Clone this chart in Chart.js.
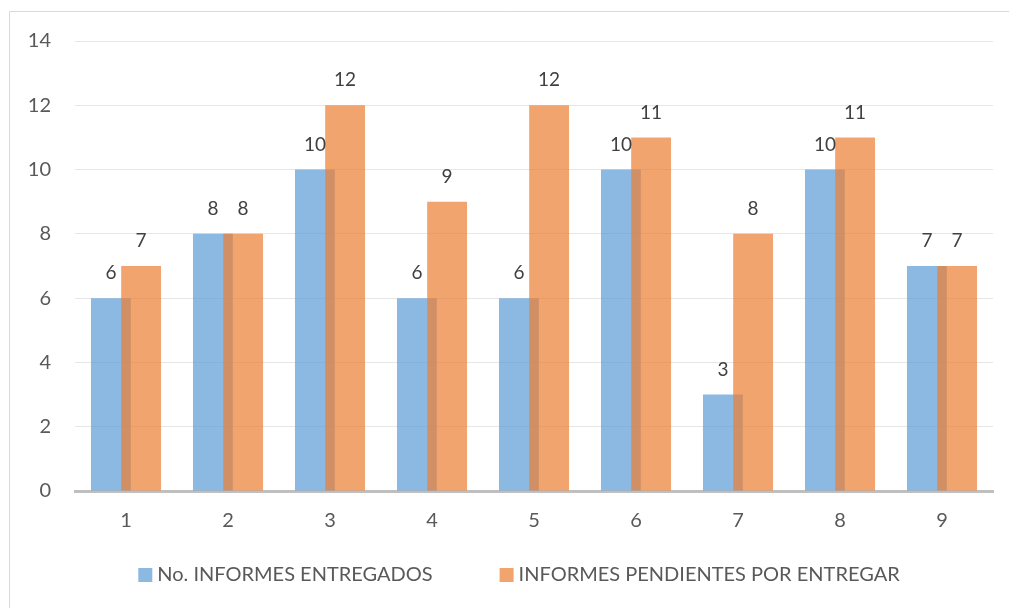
<!DOCTYPE html>
<html>
<head>
<meta charset="utf-8">
<script src="https://cdn.jsdelivr.net/npm/chart.js@4.4.1/dist/chart.umd.min.js"></script>
<style>
  html, body { margin: 0; padding: 0; background: #fff; }
  canvas { display: block; }
</style>
</head>
<body>
<canvas id="myChart" width="1009" height="608"></canvas>
<script>
// datos del gráfico
const categories = ['1', '2', '3', '4', '5', '6', '7', '8', '9'];
const entregados = [6, 8, 10, 6, 6, 10, 3, 10, 7];
const pendientes = [7, 8, 12, 9, 12, 11, 8, 11, 7];
const seriesNames = ['No. INFORMES ENTREGADOS', 'INFORMES PENDIENTES POR ENTREGAR'];
const Y_MIN = 0;
const Y_MAX = 14;
const Y_STEP = 2;

const FONT = 'Lato, "Open Sans", sans-serif';

// dibuja las series en orden (la naranja queda encima), las etiquetas y la leyenda
const drawPlugin = {
    id: 'drawPlugin',
    beforeDraw(chart) {
        const c = chart.ctx;
        c.save();
        c.fillStyle = '#fff';
        c.fillRect(0, 0, chart.width, chart.height);
        c.strokeStyle = '#d9d9d9';
        c.lineWidth = 1;
        c.beginPath();
        c.moveTo(9.5, chart.height);
        c.lineTo(9.5, 11.5);
        c.lineTo(chart.width, 11.5);
        c.stroke();
        c.restore();
    },
    beforeDatasetsDraw(chart) {
        chart.data.datasets.forEach((ds, i) => {
            const meta = chart.getDatasetMeta(i);
            if (!meta.hidden) meta.controller.draw();
        });
        return false;
    },
    afterDraw(chart) {
        const c = chart.ctx;
        c.save();
        // valores encima de las barras
        c.font = '19px ' + FONT;
        c.fillStyle = '#404040';
        c.textAlign = 'center';
        c.textBaseline = 'middle';
        chart.data.datasets.forEach((ds, i) => {
            const meta = chart.getDatasetMeta(i);
            meta.data.forEach((bar, j) => {
                c.fillText(String(ds.data[j]), bar.x, bar.y - 25);
            });
        });

        // leyenda
        c.font = '20px ' + FONT;
        c.textAlign = 'left';
        const box = 14, textGap = 19, itemGap = 67, cy = 575;
        const widths = chart.data.datasets.map(ds => c.measureText(ds.label).width);
        const total = widths.reduce((a, w) => a + textGap + w, 0) + itemGap * (widths.length - 1);
        let x = 519 - total / 2;
        chart.data.datasets.forEach((ds, i) => {
            c.fillStyle = ds.backgroundColor;
            c.fillRect(x, cy - box / 2, box, box);
            c.fillStyle = '#595959';
            c.fillText(ds.label, x + textGap, cy);
            x += textGap + widths[i] + itemGap;
        });
        c.restore();
    }
};

const data = {
    labels: categories,
    datasets: [
        {
            label: seriesNames[0],
            data: entregados,
            backgroundColor: 'rgba(91, 155, 213, 0.7)',
            borderWidth: 0,
        },
        {
            label: seriesNames[1],
            data: pendientes,
            backgroundColor: 'rgba(237, 125, 49, 0.7)',
            borderWidth: 0,
        },
    ],
};

var ctx = document.getElementById('myChart').getContext('2d');

var myChart = new Chart(ctx, {
    type: 'bar',
    data: data,
    plugins: [drawPlugin],
    options: {
        responsive: false,
        animation: false,
        devicePixelRatio: 1,
        categoryPercentage: 0.592,
        barPercentage: 1.32,
        layout: {
            padding: { left: 0, right: 16, top: 41, bottom: 75 },
        },
        plugins: {
            tooltip: { enabled: false },
            legend: { display: false },
        },
        scales: {
            x: {
                grid: { display: false, drawTicks: false },
                border: { display: true, color: '#bfbfbf', width: 3 },
                ticks: {
                    color: '#595959',
                    font: { family: FONT, size: 20 },
                    padding: 18,
                    maxRotation: 0,
                },
                afterFit(scale) { scale.height = 42; },
            },
            y: {
                min: Y_MIN,
                max: Y_MAX,
                ticks: {
                    stepSize: Y_STEP,
                    color: '#595959',
                    font: { family: FONT, size: 20 },
                    padding: 24,
                },
                grid: { color: '#e6e6e6', drawTicks: false },
                border: { display: false },
                afterFit(scale) { scale.width = 75; },
            },
        },
    },
});
</script>
</body>
</html>
